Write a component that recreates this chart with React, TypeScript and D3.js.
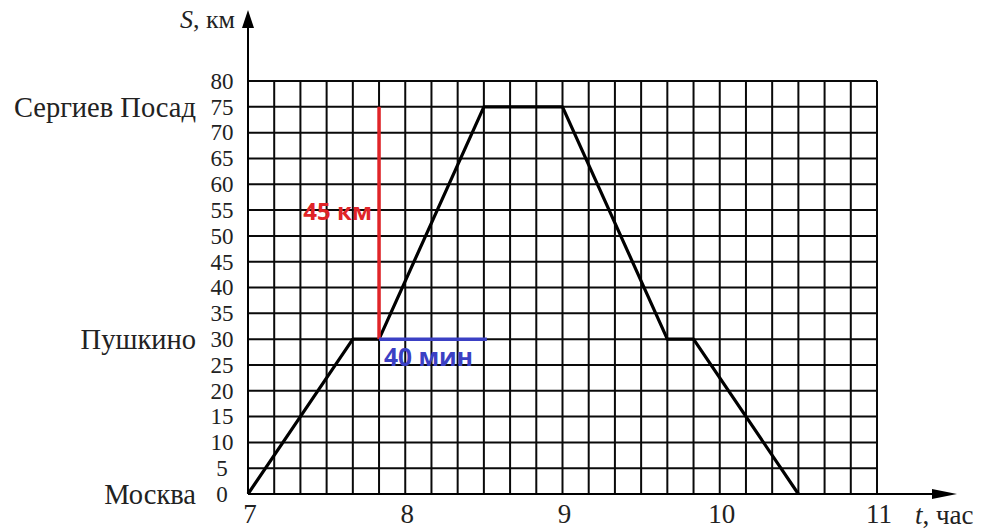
import * as React from 'react';
import * as d3 from 'd3';

// route schedule (clock time -> km from Moscow)
const times = ['7:00', '7:40', '7:50', '8:30', '9:00', '9:40', '9:50', '10:30'];
const distKm = [0, 30, 30, 75, 75, 30, 30, 0];

const placeNames = ['Москва', 'Пушкино', 'Сергиев Посад'];
const placeKm = [0, 30, 75];

const yTicks = [0, 5, 10, 15, 20, 25, 30, 35, 40, 45, 50, 55, 60, 65, 70, 75, 80];
const xTicks = [7, 8, 9, 10, 11];

// highlighted segments
const redFrom = '7:50';
const redKm = [30, 75];
const redLabel = '45 км';
const blueTimes = ['7:50', '8:30'];
const blueKm = 30;
const blueLabel = '40 мин';

const toHours = (s: string) => {
  const [h, m] = s.split(':').map(Number);
  return h + m / 60;
};

const serif = '"Liberation Serif", "Times New Roman", serif';
const sans = '"Open Sans", "Liberation Sans", Arial, sans-serif';

export default function App() {
  const ref = React.useRef<SVGSVGElement>(null);

  React.useEffect(() => {
    const svg = d3.select(ref.current);
    svg.selectAll('*').remove();

    const x = d3.scaleLinear().domain([7, 11]).range([248, 877]);
    const y = d3.scaleLinear().domain([0, 80]).range([494, 81]);

    const g = svg.append('g');

    // grid, 10 min by 5 km
    const vLines = d3.range(0, 25).map((i) => 7 + i / 6);
    g.selectAll('line.v')
      .data(vLines)
      .enter()
      .append('line')
      .attr('x1', (d) => x(d))
      .attr('x2', (d) => x(d))
      .attr('y1', y(0))
      .attr('y2', y(80))
      .attr('stroke', '#0a0a0a')
      .attr('stroke-width', 2);

    g.selectAll('line.h')
      .data(yTicks)
      .enter()
      .append('line')
      .attr('x1', x(7))
      .attr('x2', x(11))
      .attr('y1', (d) => y(d))
      .attr('y2', (d) => y(d))
      .attr('stroke', '#0a0a0a')
      .attr('stroke-width', 2);

    // axes with arrows
    g.append('line')
      .attr('x1', x(7)).attr('x2', x(7))
      .attr('y1', y(0)).attr('y2', 24)
      .attr('stroke', '#000').attr('stroke-width', 2);
    g.append('path')
      .attr('d', `M${x(7)},10 L${x(7) - 6},28 L${x(7) + 6},28 Z`)
      .attr('fill', '#000');

    g.append('line')
      .attr('x1', x(7)).attr('x2', 940)
      .attr('y1', y(0)).attr('y2', y(0))
      .attr('stroke', '#000').attr('stroke-width', 2);
    g.append('path')
      .attr('d', `M957,${y(0)} L932,${y(0) - 5} L932,${y(0) + 5} Z`)
      .attr('fill', '#000');

    // tick labels
    g.selectAll('text.yt')
      .data(yTicks)
      .enter()
      .append('text')
      .attr('x', 222)
      .attr('y', (d) => y(d))
      .attr('dy', '0.34em')
      .attr('text-anchor', 'middle')
      .attr('font-family', serif)
      .attr('font-size', 23)
      .attr('fill', '#222')
      .text((d) => d);

    g.selectAll('text.xt')
      .data(xTicks)
      .enter()
      .append('text')
      .attr('x', (d) => x(d) + 2)
      .attr('y', 523)
      .attr('text-anchor', 'middle')
      .attr('font-family', serif)
      .attr('font-size', 27)
      .attr('fill', '#222')
      .text((d) => d);

    g.selectAll('text.place')
      .data(placeNames)
      .enter()
      .append('text')
      .attr('x', 196)
      .attr('y', (d, i) => y(placeKm[i]))
      .attr('dy', '0.34em')
      .attr('text-anchor', 'end')
      .attr('font-family', serif)
      .attr('font-size', 28.5)
      .attr('fill', '#222')
      .text((d) => d);

    // axis titles
    const sTitle = g.append('text')
      .attr('x', 235).attr('y', 28)
      .attr('text-anchor', 'end')
      .attr('font-family', serif)
      .attr('font-size', 26)
      .attr('fill', '#222');
    sTitle.append('tspan').attr('font-style', 'italic').text('S');
    sTitle.append('tspan').text(', км');

    const tTitle = g.append('text')
      .attr('x', 915).attr('y', 524)
      .attr('font-family', serif)
      .attr('font-size', 27)
      .attr('fill', '#222');
    tTitle.append('tspan').attr('font-style', 'italic').text('t');
    tTitle.append('tspan').text(', час');

    // route
    const pts: [number, number][] = times.map((t, i) => [toHours(t), distKm[i]]);
    const line = d3.line<[number, number]>()
      .x((d) => x(d[0]))
      .y((d) => y(d[1]));
    g.append('path')
      .attr('d', line(pts))
      .attr('fill', 'none')
      .attr('stroke', '#000')
      .attr('stroke-width', 3.2)
      .attr('stroke-linejoin', 'round');

    // red: distance climbed
    const rx = x(toHours(redFrom));
    g.append('line')
      .attr('x1', rx).attr('x2', rx)
      .attr('y1', y(redKm[0])).attr('y2', y(redKm[1]))
      .attr('stroke', '#e02428')
      .attr('stroke-width', 3.5);
    g.append('text')
      .attr('x', rx - 7)
      .attr('y', y((redKm[0] + redKm[1]) / 2) - 3)
      .attr('text-anchor', 'end')
      .attr('font-family', sans)
      .attr('font-weight', 700)
      .attr('font-size', 24)
      .attr('fill', '#e02428')
      .text(redLabel);

    // blue: time taken
    g.append('line')
      .attr('x1', x(toHours(blueTimes[0])))
      .attr('x2', x(toHours(blueTimes[1])) + 3)
      .attr('y1', y(blueKm)).attr('y2', y(blueKm))
      .attr('stroke', '#3b40c4')
      .attr('stroke-width', 3.5);
    g.append('text')
      .attr('x', x(toHours(blueTimes[0])) + 5)
      .attr('y', y(blueKm) + 27)
      .attr('font-family', sans)
      .attr('font-weight', 700)
      .attr('font-size', 24.5)
      .attr('fill', '#3b40c4')
      .text(blueLabel);
  }, []);

  return (
    <svg
      ref={ref}
      width={990}
      height={532}
      style={{ position: 'fixed', left: 0, top: 0, background: '#fff' }}
    />
  );
}
